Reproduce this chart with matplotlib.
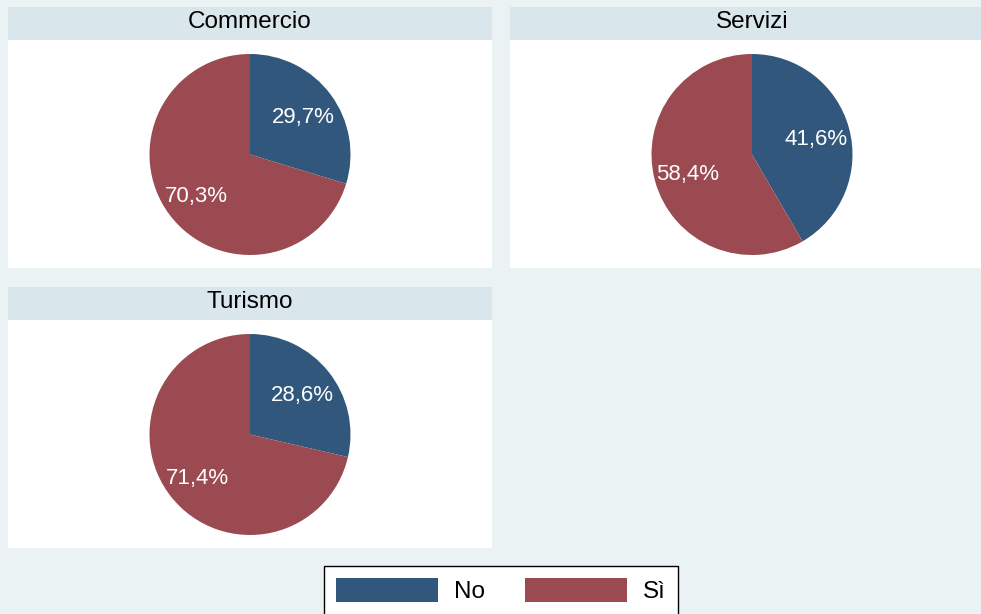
import matplotlib.pyplot as plt
from matplotlib.patches import Patch, Rectangle

plt.rcParams["font.family"] = ["Liberation Sans", "DejaVu Sans"]

sectors = ["Commercio", "Servizi", "Turismo"]
answers = ["No", "Sì"]
share_no = [29.7, 41.6, 28.6]
share_si = [70.3, 58.4, 71.4]
colors = ["#31587C", "#9A4A50"]

W, H = 981, 614
BG = "#EAF2F3"
STRIP = "#D9E6EB"


def fx(px):
    return px / W


def fy(py):
    return 1 - py / H


fig = plt.figure(figsize=(W / 100, H / 100), dpi=100, facecolor=BG)

# panel positions (left, top) in pixels
panels = [(8, 7), (510, 7), (8, 287)]
pw, ph, strip_h = 484, 261, 33

for (x0, y0), name, no, si in zip(panels, sectors, share_no, share_si):
    # white plot region and title strip, kept under the pie axes
    fig.patches.append(Rectangle((fx(x0), fy(y0 + ph)), pw / W, ph / H,
                                 transform=fig.transFigure, facecolor="white",
                                 edgecolor="none", zorder=-2))
    fig.patches.append(Rectangle((fx(x0), fy(y0 + strip_h)), pw / W, strip_h / H,
                                 transform=fig.transFigure, facecolor=STRIP,
                                 edgecolor="none", zorder=-1))
    fig.text(fx(x0 + pw / 2), fy(y0 + strip_h / 2 - 1), name, ha="center",
             va="center", fontsize=17.5, color="black")

    cx, cy, r = x0 + pw / 2, y0 + 147.5, 100.5
    ax = fig.add_axes([fx(cx - r), fy(cy + r), 2 * r / W, 2 * r / H])
    _, _, autotexts = ax.pie(
        [no, si], colors=colors, startangle=90, counterclock=False,
        radius=1, labels=None,
        autopct=lambda p: f"{p:.1f}%".replace(".", ","),
        pctdistance=0.665,
        textprops=dict(color="white", fontsize=16),
        wedgeprops=dict(linewidth=0))
    for t in autotexts:
        t.set_va("center_baseline")
    ax.set_xlim(-1, 1)
    ax.set_ylim(-1, 1)
    ax.set_facecolor("none")

handles = [Patch(facecolor=c, edgecolor="none") for c in colors]
leg = fig.legend(handles, answers, ncol=2, loc="upper center",
                 bbox_to_anchor=(fx(501), fy(566)), borderaxespad=0,
                 fontsize=17.5, handlelength=4.2, handleheight=1.15,
                 handletextpad=0.65, columnspacing=1.65, borderpad=0.5,
                 fancybox=False, frameon=True, edgecolor="black",
                 facecolor="white", framealpha=1)
leg.get_frame().set_linewidth(1)

fig.savefig("out.png", dpi=100, facecolor=BG)
